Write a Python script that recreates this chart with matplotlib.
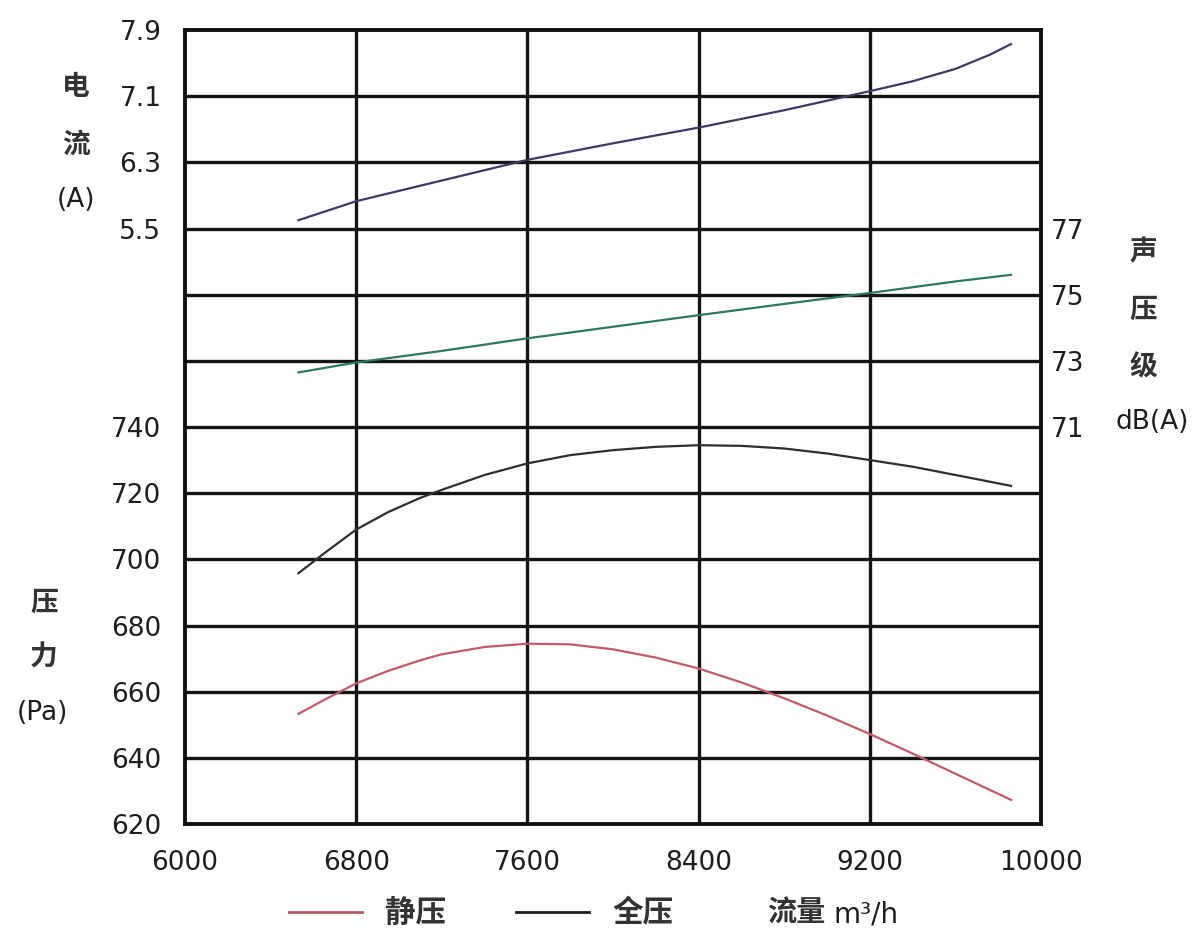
import numpy as np
import matplotlib
matplotlib.use("Agg")
import matplotlib.pyplot as plt
from matplotlib.lines import Line2D

plt.rcParams['font.family'] = ['DejaVu Sans', 'Noto Sans CJK SC']

# flow rate (m3/h) and the four curves
flow_p = [6530, 6650, 6800, 6950, 7100, 7200, 7400, 7600, 7800, 8000, 8200, 8400,
          8600, 8800, 9000, 9200, 9400, 9600, 9860]
static_p = [653.3, 657.5, 662.5, 666.3, 669.5, 671.3, 673.5, 674.5, 674.3, 672.8, 670.3, 667.0,
            662.8, 658.0, 652.8, 647.2, 641.3, 635.2, 627.3]
total_p = [695.8, 701.8, 709.0, 714.3, 718.6, 721.0, 725.5, 729.0, 731.5, 733.0, 734.0, 734.5,
           734.3, 733.5, 732.0, 730.0, 728.0, 725.5, 722.2]

flow_i = [6530, 6800, 7200, 7600, 8000, 8400, 8800, 9200, 9400, 9600, 9760, 9860]
current = [5.60, 5.83, 6.08, 6.33, 6.53, 6.72, 6.93, 7.16, 7.28, 7.43, 7.60, 7.73]

flow_s = [6530, 6800, 7200, 7600, 8000, 8400, 8800, 9200, 9600, 9860]
sound = [72.65, 72.95, 73.3, 73.68, 74.03, 74.38, 74.72, 75.05, 75.4, 75.6]

x_ticks = [6000, 6800, 7600, 8400, 9200, 10000]
p_ticks = [620, 640, 660, 680, 700, 720, 740]
i_ticks = [5.5, 6.3, 7.1, 7.9]
s_ticks = [71, 73, 75, 77]

txt = '#1e1e1e'
fs = 19
fs_cn = 20

fig = plt.figure(figsize=(12, 9.47), dpi=100)
ax = fig.add_axes([185 / 1200, 1 - 824 / 947, (1041 - 185) / 1200, (824 - 30) / 947])

# pressure axis covers the whole box, upper part is shared with current / sound
ax.set_xlim(6000, 10000)
ax.set_ylim(620, 860)
for g in np.arange(640, 860, 20):
    ax.axhline(g, color='#151515', lw=2.4, zorder=1)
for g in x_ticks[1:-1]:
    ax.axvline(g, color='#151515', lw=2.4, zorder=1)

ax.set_yticks(p_ticks)
ax.set_xticks(x_ticks)
ax.tick_params(axis='both', length=0, labelsize=fs, labelcolor=txt)
ax.tick_params(axis='y', pad=17)
ax.tick_params(axis='x', pad=19)
for s in ax.spines.values():
    s.set_linewidth(2.8)
    s.set_color('#111111')

ax.plot(flow_p, static_p, color='#c25a6a', lw=1.6, zorder=3)
ax.plot(flow_p, total_p, color='#2e2e2e', lw=1.6, zorder=3)

# current axis (left, top block)
ax_i = ax.twinx()
ax_i.set_ylim(-1.7, 7.9)
ax_i.yaxis.tick_left()
ax_i.set_yticks(i_ticks)
ax_i.tick_params(axis='y', length=0, labelsize=fs, labelcolor=txt, pad=17)
ax_i.plot(flow_i, current, color='#3a3a68', lw=1.6, zorder=3)
for s in ax_i.spines.values():
    s.set_visible(False)

# sound pressure axis (right, middle block)
ax_s = ax.twinx()
ax_s.set_ylim(59, 83)
ax_s.set_yticks(s_ticks)
ax_s.tick_params(axis='y', length=0, labelsize=fs, labelcolor=txt, pad=7)
ax_s.plot(flow_s, sound, color='#2c7a58', lw=1.6, zorder=3)
for s in ax_s.spines.values():
    s.set_visible(False)

# stacked axis titles
for t, y in zip(['电', '流'], [87, 145]):
    fig.text(76 / 1200, 1 - y / 947, t, ha='center', va='center', fontsize=fs_cn,
             fontweight='bold', color='#333333')
fig.text(76 / 1200, 1 - 200 / 947, '(A)', ha='center', va='center', fontsize=fs_cn - 1, color=txt)
for t, y in zip(['压', '力'], [603, 658]):
    fig.text(44 / 1200, 1 - y / 947, t, ha='center', va='center', fontsize=fs_cn,
             fontweight='bold', color='#333333')
fig.text(42 / 1200, 1 - 713 / 947, '(Pa)', ha='center', va='center', fontsize=fs_cn - 1, color=txt)
for t, y in zip(['声', '压', '级'], [252, 310, 368]):
    fig.text(1143 / 1200, 1 - y / 947, t, ha='center', va='center', fontsize=fs_cn,
             fontweight='bold', color='#333333')
fig.text(1152 / 1200, 1 - 422 / 947, 'dB(A)', ha='center', va='center', fontsize=fs_cn - 1, color=txt)

handles = [Line2D([], [], color='#b05a66', lw=2.0), Line2D([], [], color='#1e1e1e', lw=2.0)]
fig.legend(handles, ['静压', '全压'], loc='center', ncol=2, frameon=False,
           bbox_to_anchor=(481 / 1200, 1 - 914 / 947),
           prop={'size': 22, 'weight': 'bold'},
           handlelength=2.4, handletextpad=0.75, columnspacing=2.3, labelcolor='#333333')
fig.text(767 / 1200, 1 - 914 / 947, '流量', ha='left', va='center', fontsize=21,
         fontweight='bold', color='#333333')
fig.text(834 / 1200, 1 - 914 / 947, 'm³/h', ha='left', va='center', fontsize=fs_cn, color=txt)

fig.savefig('out.png', dpi=100, facecolor='white')
